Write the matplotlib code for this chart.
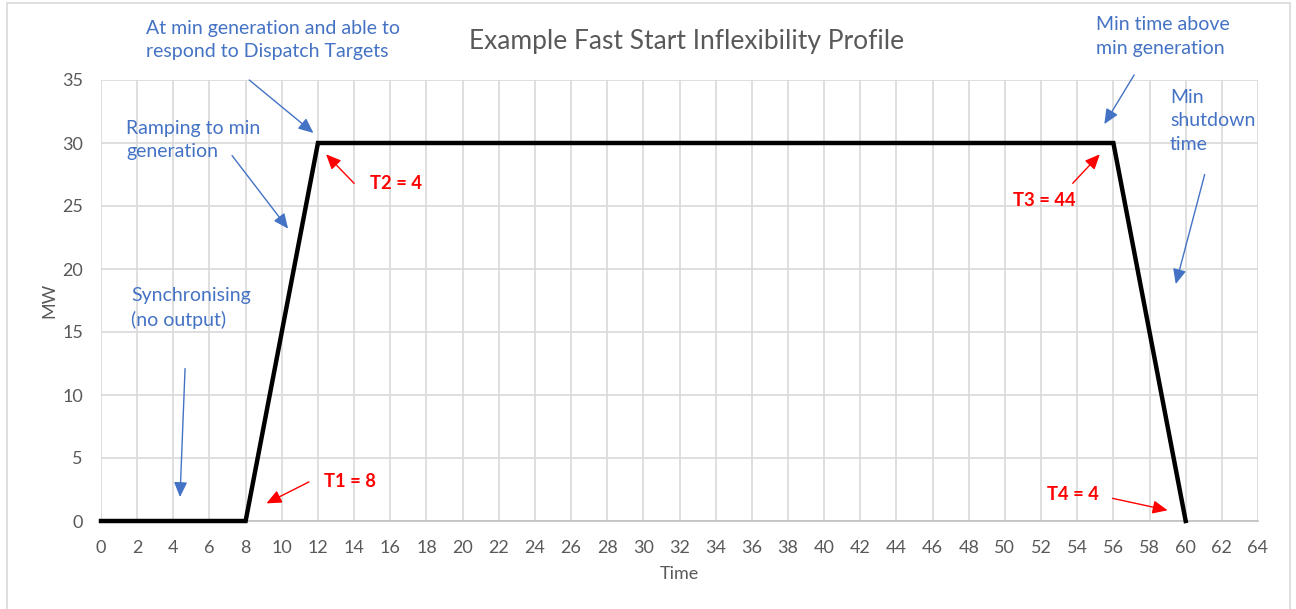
import matplotlib
matplotlib.use("Agg")
import matplotlib.pyplot as plt
from matplotlib.patches import Rectangle

plt.rcParams['font.family'] = ['Lato', 'DejaVu Sans']

# Data
time = [0, 8, 12, 56, 60]
mw = [0, 0, 30, 30, 0]
x_ticks = list(range(0, 65, 2))
y_ticks = list(range(0, 36, 5))

title = "Example Fast Start Inflexibility Profile"
x_label = "Time"
y_label = "MW"

# annotations: (text, text_xy, arrow_start, arrow_tip)
blue_notes = [
    ("At min generation and able to\nrespond to Dispatch Targets", (2.49, 38.17), (8.2, 35.0), (11.75, 30.8)),
    ("Ramping to min\ngeneration", (1.38, 30.24), (7.25, 29.0), (10.35, 23.2)),
    ("Synchronising\n(no output)", (1.66, 16.9), (4.65, 12.1), (4.37, 1.9)),
    ("Min time above\nmin generation", (55.03, 38.45), (57.15, 35.4), (55.5, 31.5)),
    ("Min\nshutdown\ntime", (59.13, 31.75), (61.05, 27.5), (59.45, 18.8)),
]
red_notes = [
    ("T1 = 8", (12.33, 3.17), (11.5, 3.1), (9.15, 1.4)),
    ("T2 = 4", (14.88, 26.75), (14.0, 26.8), (12.45, 29.1)),
    ("T3 = 44", (50.44, 25.4), (53.75, 26.8), (55.25, 29.1)),
    ("T4 = 4", (52.32, 2.14), (55.95, 1.8), (59.0, 0.85)),
]

fig = plt.figure(figsize=(12.96, 6.09), dpi=100)
ax = fig.add_axes([101/1296, 1-521/609, 1157/1296, 441/609])

ax.plot(time, mw, color='black', linewidth=3.2, solid_joinstyle='miter', zorder=3, clip_on=False)

ax.set_xlim(0, 64)
ax.set_ylim(0, 35)
ax.set_xticks(x_ticks)
ax.set_yticks(y_ticks)
ax.grid(True, color='#D9D9D9', linewidth=1.2, zorder=0)
ax.set_axisbelow(True)
for s in ['top', 'right', 'left']:
    ax.spines[s].set_visible(False)
ax.spines['bottom'].set_color('#BFBFBF')
ax.spines['bottom'].set_linewidth(1.2)
ax.tick_params(length=0, labelsize=13, labelcolor='#595959')
ax.tick_params(axis='x', pad=14)
ax.tick_params(axis='y', pad=13)

ax.set_xlabel(x_label, fontsize=13, color='#595959', labelpad=7)
ax.set_ylabel(y_label, fontsize=13, color='#595959', labelpad=3)
fig.text(687/1296, 1-41/609, title, ha='center', va='center', fontsize=19, color='#595959')

for txt, txy, a0, a1 in blue_notes:
    ax.text(txy[0], txy[1], txt, color='#4472C4', fontsize=14, ha='left', va='center',
            linespacing=1.45, clip_on=False)
    ax.annotate('', xy=a1, xytext=a0, annotation_clip=False,
                arrowprops=dict(arrowstyle='-|>,head_length=0.9,head_width=0.4',
                                color='#4472C4', lw=1.0, shrinkA=0, shrinkB=0))

for txt, txy, a0, a1 in red_notes:
    ax.text(txy[0], txy[1], txt, color='#FF0000', fontsize=13.2, fontweight='bold',
            ha='left', va='center', clip_on=False)
    ax.annotate('', xy=a1, xytext=a0, annotation_clip=False,
                arrowprops=dict(arrowstyle='-|>,head_length=0.9,head_width=0.4',
                                color='#FF0000', lw=1.0, shrinkA=0, shrinkB=0))

fig.patches.append(Rectangle((7/1296, -0.05), 1283/1296, 1.05 - 3/609, transform=fig.transFigure,
                             fill=False, edgecolor='#D9D9D9', linewidth=1.2))

fig.savefig('out.png', dpi=100)
